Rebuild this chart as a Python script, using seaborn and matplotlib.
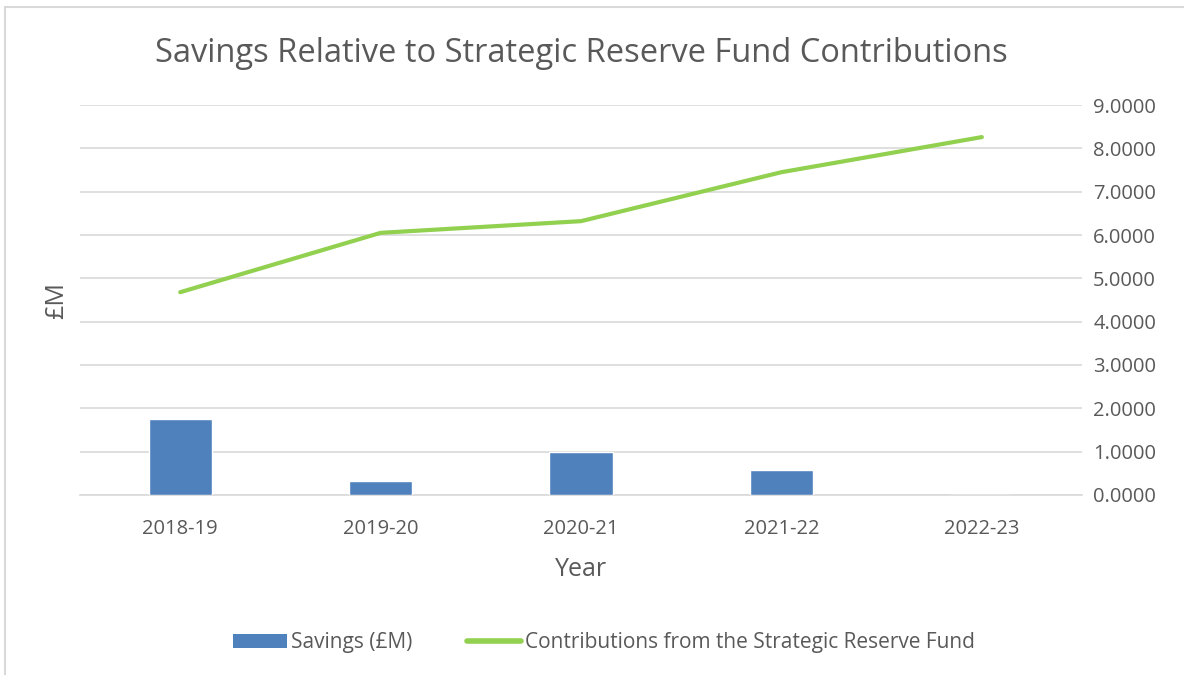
import numpy as np
import pandas as pd
import matplotlib.pyplot as plt
import seaborn as sns
from matplotlib.patches import Patch, Rectangle
from matplotlib.lines import Line2D

#chart values
years = ['2018-19', '2019-20', '2020-21', '2021-22', '2022-23']
savings = [1.75, 0.33, 1.00, 0.58, 0.0]
contributions = [4.68, 6.05, 6.32, 7.45, 8.26]
y_ticks = [0, 1, 2, 3, 4, 5, 6, 7, 8, 9]

bar_color = '#4F81BD'
line_color = '#92D050'
text_color = '#595959'
grid_color = '#D9D9D9'

sns.set_theme(style='white')
plt.rcParams['font.family'] = ['Open Sans', 'DejaVu Sans']

df = pd.DataFrame({'Year': years, 'Savings': savings, 'Contributions': contributions})

fig = plt.figure(figsize=(11.84, 6.75), dpi=100)
ax = fig.add_axes([0.0676, 0.2667, 0.8463, 0.5777])

#light outline around the chart area (right/bottom run off the image)
fig.patches.append(Rectangle((0.0042, -0.01), 1.1, 0.9996, transform=fig.transFigure,
                             fill=False, edgecolor=grid_color, linewidth=1.5))

#bars
sns.barplot(data=df, x='Year', y='Savings', color=bar_color, width=0.315,
            saturation=1, ax=ax, zorder=3)

#line on the same axis
sns.lineplot(x=np.arange(len(years)), y=df['Contributions'], color=line_color,
             linewidth=3, ax=ax, zorder=4)

ax.set_xlim(-0.5, len(years) - 0.5)
ax.set_ylim(0, 9)
ax.set_yticks(y_ticks)
ax.set_yticklabels(['{:.4f}'.format(v) for v in y_ticks])
ax.yaxis.tick_right()
ax.tick_params(axis='both', length=0, labelsize=14.5, labelcolor=text_color)
ax.tick_params(axis='y', pad=8)
ax.tick_params(axis='x', pad=17)
ax.grid(axis='y', color=grid_color, linewidth=1.2, zorder=0)
ax.set_axisbelow(True)
for s in ['left', 'right', 'top']:
    ax.spines[s].set_visible(False)
ax.spines['bottom'].set_color(grid_color)
ax.spines['bottom'].set_linewidth(1.2)

ax.set_xlabel('Year', fontsize=18, color=text_color, labelpad=13)
ax.set_ylabel('£M', fontsize=18, color=text_color, labelpad=8)
ax.set_title('Savings Relative to Strategic Reserve Fund Contributions',
             fontsize=23.5, color=text_color, pad=31)

handles = [Patch(facecolor=bar_color, edgecolor='none'),
           Line2D([0], [0], color=line_color, linewidth=4, solid_capstyle='round')]
fig.legend(handles, ['Savings (£M)', 'Contributions from the Strategic Reserve Fund'],
           loc='center', bbox_to_anchor=(0.51, 0.048), ncol=2, frameon=False,
           fontsize=15, labelcolor=text_color, handlelength=2.6, handletextpad=0.2,
           columnspacing=2.6)

plt.savefig('out.png', dpi=100)
